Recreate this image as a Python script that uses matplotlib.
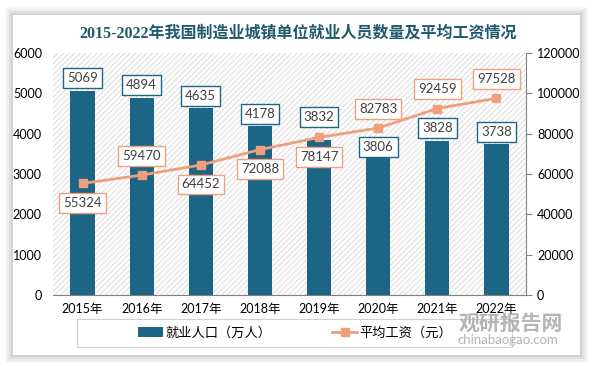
import matplotlib
matplotlib.use("Agg")
import matplotlib.pyplot as plt
from matplotlib.patches import Rectangle
import numpy as np

plt.rcParams['font.family'] = ['Lato', 'Noto Sans CJK SC', 'DejaVu Sans']
plt.rcParams['hatch.linewidth'] = 0.6

years = ["2015年", "2016年", "2017年", "2018年", "2019年", "2020年", "2021年", "2022年"]
employment = [5069, 4894, 4635, 4178, 3832, 3806, 3828, 3738]
wage = [55324, 59470, 64452, 72088, 78147, 82783, 92459, 97528]
wage_label_above = [False, True, False, False, False, True, True, True]
# label offset above bar top (points)
emp_label_offset = [9, 9, 9, 9, 17, -4, 9, 9]

title = "2015-2022年我国制造业城镇单位就业人员数量及平均工资情况"
bar_name = "就业人口（万人）"
line_name = "平均工资（元）"

bar_color = "#1c6585"
line_color = "#ef9f7c"
title_color = "#1e5a6e"

W, H = 594, 366
fig = plt.figure(figsize=(W / 100, H / 100), dpi=100)
fig.patch.set_facecolor("#ffffff")

# card with soft shadow
cx0, cy0, cx1, cy1 = 13, 15, 580, 355
for i, a in enumerate([0.03, 0.04, 0.05, 0.06]):
    p = (4 - i) * 2
    fig.patches.append(Rectangle(((cx0 - p) / W, 1 - (cy1 + p) / H), (cx1 - cx0 + 2 * p) / W, (cy1 - cy0 + 2 * p) / H,
                                 transform=fig.transFigure, facecolor="black", alpha=a, edgecolor="none", zorder=-10))
fig.patches.append(Rectangle((cx0 / W, 1 - cy1 / H), (cx1 - cx0) / W, (cy1 - cy0) / H,
                             transform=fig.transFigure, facecolor="white", edgecolor="none", zorder=-9))

ax = fig.add_axes([53 / W, 1 - 295 / H, 473 / W, 242 / H])
ax.set_facecolor("white")
ax.add_patch(Rectangle((0, 0), 1, 1, transform=ax.transAxes, facecolor="white",
                       edgecolor="#d5d5d5", hatch="//////", linewidth=0, zorder=0))
x = np.arange(len(years))
ax.bar(x, employment, width=0.41, color=bar_color, zorder=2, label=bar_name)
ax.set_xlim(-0.5, len(years) - 0.5)
ax.set_ylim(0, 6000)
ax.set_yticks(range(0, 6001, 1000))
ax.set_xticks(x)
ax.set_xticklabels(years, fontsize=9)
ax.tick_params(axis='y', length=0, labelsize=9, pad=8)
ax.tick_params(axis='x', length=0, labelsize=9, pad=6)
for s in ["top", "left", "right"]:
    ax.spines[s].set_visible(False)
ax.spines["bottom"].set_color("#808080")

for xi, v, off in zip(x, employment, emp_label_offset):
    ax.annotate(str(v), (xi, v), xytext=(0, off), textcoords="offset points",
                ha="center", va="center", fontsize=9.5, color="#404040", zorder=6,
                bbox=dict(boxstyle="square,pad=0.3", facecolor="white", edgecolor=bar_color, linewidth=1))

ax2 = ax.twinx()
ax2.set_ylim(0, 120000)
ax2.set_yticks(range(0, 120001, 20000))
ax2.plot(x, wage, color=line_color, linewidth=2, marker="s", markersize=6, zorder=3, label=line_name)
ax2.tick_params(axis='y', length=4, labelsize=9, color="#808080", pad=4)
for s in ["top", "left", "bottom"]:
    ax2.spines[s].set_visible(False)
ax2.spines["right"].set_color("#808080")

for xi, v, above in zip(x, wage, wage_label_above):
    ax2.annotate(str(v), (xi, v), xytext=(0, 14 if above else -14), textcoords="offset points",
                 ha="center", va="center", fontsize=9.5, color="#404040", zorder=6,
                 bbox=dict(boxstyle="square,pad=0.3", facecolor="white", edgecolor=line_color, linewidth=1))

fig.text(298 / W, 1 - 33 / H, title, ha="center", va="center", fontsize=11.5, fontweight="bold",
         color=title_color, family=["Liberation Serif", "Noto Sans CJK SC"])

# legend frame
fig.patches.append(Rectangle((77 / W, 1 - 347 / H), (512 - 77) / W, 28 / H, transform=fig.transFigure,
                             facecolor="white", edgecolor="#d0d0d0", linewidth=0.8, zorder=1))
h1, l1 = ax.get_legend_handles_labels()
h2, l2 = ax2.get_legend_handles_labels()
leg = fig.legend(h1 + h2, l1 + l2, loc="center", bbox_to_anchor=(295 / W, 1 - 333 / H), ncol=2,
                 frameon=False, columnspacing=4.6, handlelength=1.9, handletextpad=0.2,
                 prop=dict(family=["Noto Sans CJK SC"], size=9.5))

fig.text(511 / W, 1 - 323 / H, "观研报告网", ha="center", va="center", fontsize=15, fontweight="bold",
         color="#a8a8a8", alpha=0.85, family=["Noto Sans CJK SC"], zorder=10)
fig.text(508 / W, 1 - 340 / H, "chinabaogao.com", ha="center", va="center", fontsize=9.5,
         color="#a8a8a8", alpha=0.85, zorder=10)

fig.savefig("out.png", dpi=100)
